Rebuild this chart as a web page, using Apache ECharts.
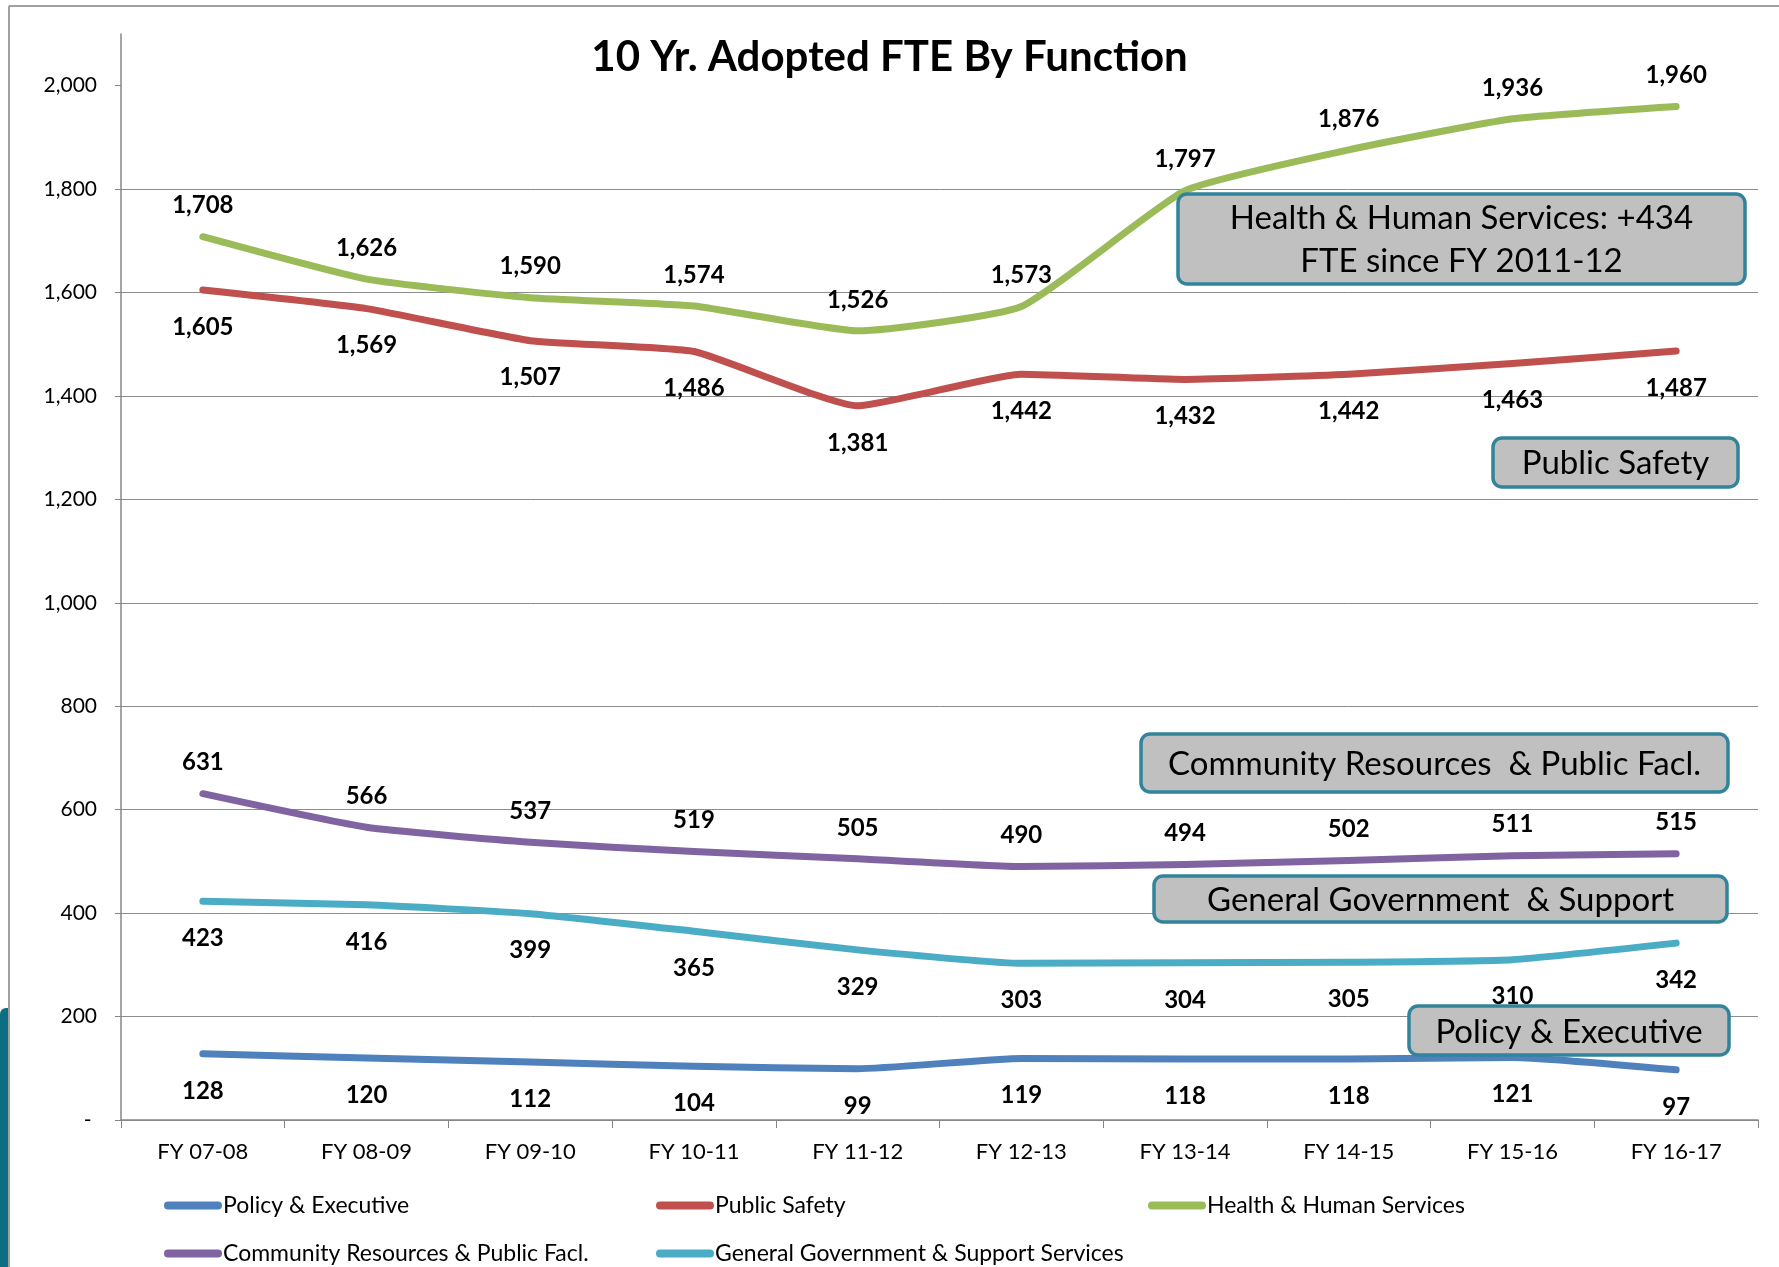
<!DOCTYPE html>
<html>
<head>
<meta charset="utf-8">
<title>10 Yr. Adopted FTE By Function</title>
<script src="https://cdn.jsdelivr.net/npm/echarts@6/dist/echarts.min.js"></script>
<style>
  html, body { margin: 0; padding: 0; background: #fff; }
  #main { width: 1779px; height: 1267px; }
</style>
</head>
<body>
<div id="main"></div>
<script>
// data
var years = ['FY 07-08', 'FY 08-09', 'FY 09-10', 'FY 10-11', 'FY 11-12',
             'FY 12-13', 'FY 13-14', 'FY 14-15', 'FY 15-16', 'FY 16-17'];
var policyExec   = [128, 120, 112, 104, 99, 119, 118, 118, 121, 97];
var publicSafety = [1605, 1569, 1507, 1486, 1381, 1442, 1432, 1442, 1463, 1487];
var healthHuman  = [1708, 1626, 1590, 1574, 1526, 1573, 1797, 1876, 1936, 1960];
var communityRes = [631, 566, 537, 519, 505, 490, 494, 502, 511, 515];
var generalGov   = [423, 416, 399, 365, 329, 303, 304, 305, 310, 342];
var yTicks = [0, 200, 400, 600, 800, 1000, 1200, 1400, 1600, 1800, 2000];

var FONT = 'Lato, "Open Sans", sans-serif';
var chart = echarts.init(document.getElementById('main'));

function fmt(v) {
  return v === 0 ? '- ' : v.toLocaleString('en-US');
}

// one line series, labels above or below
function lineSeries(name, data, color, pos) {
  return {
    name: name,
    type: 'line',
    data: data,
    smooth: 0.15,
    symbol: 'circle',
    symbolSize: 0,
    showSymbol: true,
    lineStyle: { color: color, width: 7, cap: 'round', join: 'round' },
    itemStyle: { color: color },
    label: {
      show: true,
      position: pos,
      distance: pos === 'top' ? 19 : 25,
      formatter: function (p) { return fmt(p.value); },
      fontFamily: FONT,
      fontWeight: 'bold',
      fontSize: 24,
      color: '#000'
    },
    z: 3
  };
}

var capsule = 'path://M4,0 L54,0 A4,4 0 0 1 54,8 L4,8 A4,4 0 0 1 4,0 Z';
function legendAt(name, left, top) {
  return {
    data: [name],
    left: left, top: top,
    orient: 'horizontal',
    padding: 0,
    icon: capsule,
    itemWidth: 58, itemHeight: 8,
    textStyle: { fontFamily: FONT, fontSize: 23, color: '#000', padding: [0, 0, 0, -4] }
  };
}

// annotation box: rounded gray box with teal border
function noteBox(x, y, w, h, text, cy) {
  return [{
    type: 'rect',
    shape: { x: x, y: y, width: w, height: h, r: 9 },
    style: { fill: '#C0C0C0', stroke: '#31849B', lineWidth: 3.5 },
    z: 50
  }, {
    type: 'text',
    x: x + w / 2, y: cy,
    style: { text: text, font: '33px ' + FONT, fill: '#000', align: 'center', verticalAlign: 'middle', lineHeight: 43 },
    z: 51
  }];
}

var graphics = [
  // slide frame
  { type: 'line', shape: { x1: 9, y1: 6, x2: 1779, y2: 6 }, style: { stroke: '#A0A0A0', lineWidth: 2 } },
  { type: 'line', shape: { x1: 9, y1: 6, x2: 9, y2: 1267 }, style: { stroke: '#A0A0A0', lineWidth: 2 } },
  { type: 'rect', shape: { x: 0, y: 1008, width: 8, height: 259, r: [6, 0, 0, 0] }, style: { fill: '#0B6E82' } }
].concat(
  noteBox(1178, 194, 567, 90, 'Health & Human Services: +434\nFTE since FY 2011-12', 240),
  noteBox(1493, 438, 245, 49, 'Public Safety', 463),
  noteBox(1141, 734, 587, 58, 'Community Resources  & Public Facl.', 764),
  noteBox(1154, 876, 573, 46, 'General Government  & Support', 900),
  noteBox(1409, 1006, 320, 49, 'Policy & Executive', 1032)
);

var option = {
  backgroundColor: '#fff',
  animation: false,
  title: {
    text: '10 Yr. Adopted FTE By Function',
    left: 'center', top: 31,
    textStyle: { fontFamily: FONT, fontWeight: 'bold', fontSize: 42, color: '#000' }
  },
  grid: { left: 121, right: 21, top: 34, bottom: 147, containLabel: false },
  legend: [
    legendAt('Policy & Executive', 164, 1194),
    legendAt('Public Safety', 656, 1194),
    legendAt('Health & Human Services', 1148, 1194),
    legendAt('Community Resources & Public Facl.', 164, 1242),
    legendAt('General Government & Support Services', 656, 1242)
  ],
  xAxis: {
    type: 'category',
    data: years,
    boundaryGap: true,
    axisLine: { lineStyle: { color: '#868686', width: 1.5 } },
    axisTick: { show: true, length: 8, lineStyle: { color: '#868686' } },
    axisLabel: { fontFamily: FONT, fontSize: 22, color: '#000', margin: 21 }
  },
  yAxis: {
    type: 'value',
    min: 0, max: 2100, interval: 200,
    axisLine: { show: true, lineStyle: { color: '#868686', width: 1.5 } },
    axisTick: { show: true, length: 6, inside: false, customValues: yTicks, lineStyle: { color: '#868686' } },
    axisLabel: {
      customValues: yTicks,
      fontFamily: FONT, fontSize: 21, color: '#000', margin: 24,
      formatter: fmt
    },
    splitLine: { show: true, showMaxLine: false, lineStyle: { color: '#8C8C8C', width: 1 } }
  },
  series: [
    lineSeries('Policy & Executive', policyExec, '#4F81BD', 'bottom'),
    lineSeries('Public Safety', publicSafety, '#C0504D', 'bottom'),
    lineSeries('Health & Human Services', healthHuman, '#9BBB59', 'top'),
    lineSeries('Community Resources & Public Facl.', communityRes, '#8064A2', 'top'),
    lineSeries('General Government & Support Services', generalGov, '#4BACC6', 'bottom')
  ],
  graphic: graphics
};

chart.setOption(option);
</script>
</body>
</html>
